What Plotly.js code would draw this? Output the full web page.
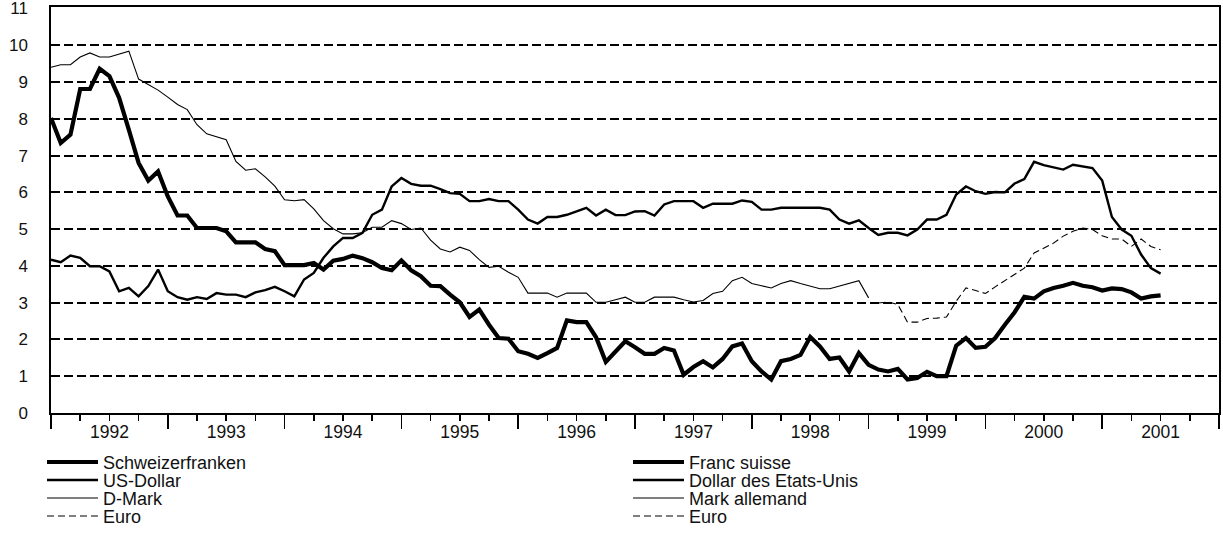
<!DOCTYPE html>
<html>
<head>
<meta charset="utf-8">
<script src="https://cdn.plot.ly/plotly-3.0.1.min.js"></script>
<style>
  html, body { margin: 0; padding: 0; background: #ffffff; }
  #chart { width: 1223px; height: 533px; }
</style>
</head>
<body>
<div id="chart"></div>
<script>
// ---- Data (monthly, Dec 1991 – Jun 2001), values in % ----
const firstYear = 1991;
const firstMonth = 12;

const chf = [8.02, 7.34, 7.57, 8.81, 8.81, 9.36, 9.16, 8.57, 7.70, 6.80,
             6.32, 6.57, 5.89, 5.37, 5.37, 5.03, 5.03, 5.03, 4.94, 4.64,
             4.64, 4.64, 4.46, 4.40, 4.02, 4.02, 4.02, 4.08, 3.90, 4.14,
             4.19, 4.28, 4.21, 4.10, 3.94, 3.88, 4.15, 3.88, 3.72, 3.46,
             3.45, 3.22, 3.01, 2.61, 2.81, 2.40, 2.04, 2.02, 1.68, 1.61,
             1.50, 1.63, 1.77, 2.52, 2.47, 2.47, 2.06, 1.39, 1.68, 1.95,
             1.79, 1.61, 1.61, 1.77, 1.70, 1.04, 1.25, 1.41, 1.24, 1.47,
             1.81, 1.89, 1.41, 1.13, 0.91, 1.41, 1.47, 1.58, 2.07, 1.81,
             1.47, 1.51, 1.13, 1.63, 1.31, 1.18, 1.13, 1.20, 0.91, 0.95,
             1.12, 1.00, 1.00, 1.83, 2.04, 1.77, 1.80, 2.04, 2.40, 2.74,
             3.16, 3.11, 3.31, 3.40, 3.46, 3.54, 3.46, 3.42, 3.33, 3.39,
             3.37, 3.28, 3.11, 3.17, 3.20];

const usd = [4.17, 4.10, 4.28, 4.22, 3.99, 3.99, 3.85, 3.31, 3.40, 3.17,
             3.45, 3.90, 3.31, 3.15, 3.08, 3.15, 3.10, 3.26, 3.22, 3.22,
             3.15, 3.28, 3.34, 3.43, 3.31, 3.17, 3.63, 3.81, 4.22, 4.53,
             4.76, 4.76, 4.90, 5.39, 5.53, 6.16, 6.39, 6.23, 6.18, 6.18,
             6.09, 5.98, 5.96, 5.76, 5.76, 5.82, 5.76, 5.76, 5.53, 5.26,
             5.15, 5.33, 5.33, 5.39, 5.48, 5.58, 5.37, 5.53, 5.38, 5.38,
             5.48, 5.49, 5.37, 5.67, 5.76, 5.76, 5.76, 5.58, 5.69, 5.69,
             5.69, 5.78, 5.74, 5.53, 5.53, 5.58, 5.58, 5.58, 5.58, 5.58,
             5.53, 5.26, 5.15, 5.24, 5.03, 4.84, 4.90, 4.90, 4.83, 4.99,
             5.26, 5.26, 5.39, 5.94, 6.16, 6.03, 5.96, 6.01, 6.00, 6.24,
             6.36, 6.83, 6.74, 6.69, 6.62, 6.75, 6.71, 6.66, 6.32, 5.33,
             4.99, 4.82, 4.31, 3.94, 3.79];

// D-Mark: Dec 1991 – Dec 1998
const dem = [9.40, 9.47, 9.47, 9.68, 9.79, 9.68, 9.68, 9.77, 9.84, 9.08,
             8.93, 8.78, 8.59, 8.39, 8.25, 7.84, 7.59, 7.52, 7.43, 6.84,
             6.60, 6.64, 6.42, 6.17, 5.80, 5.77, 5.80, 5.55, 5.23, 5.01,
             4.87, 4.87, 4.90, 5.05, 5.05, 5.23, 5.15, 4.99, 5.03, 4.70,
             4.46, 4.38, 4.51, 4.42, 4.17, 3.96, 3.99, 3.83, 3.69, 3.26,
             3.26, 3.26, 3.15, 3.26, 3.26, 3.26, 3.01, 3.01, 3.08, 3.15,
             3.01, 3.01, 3.15, 3.15, 3.15, 3.08, 3.02, 3.06, 3.25, 3.31,
             3.60, 3.69, 3.52, 3.46, 3.40, 3.52, 3.60, 3.52, 3.45, 3.38,
             3.38, 3.45, 3.51, 3.60, 3.13];

// Euro: Jan 1999 – Jun 2001
const eur = [2.99, 3.02, 2.95, 2.47, 2.47, 2.57, 2.58, 2.61, 3.04, 3.40,
             3.33, 3.25, 3.43, 3.60, 3.78, 3.94, 4.35, 4.49, 4.62, 4.81,
             4.94, 5.03, 4.99, 4.82, 4.73, 4.73, 4.53, 4.73, 4.53, 4.44];

const yearLabels = ['1992', '1993', '1994', '1995', '1996', '1997', '1998', '1999', '2000', '2001'];
const yTickLabels = ['0', '1', '2', '3', '4', '5', '6', '7', '8', '9', '10', '11'];
const namesDE = ['Schweizerfranken', 'US-Dollar', 'D-Mark', 'Euro'];
const namesFR = ['Franc suisse', 'Dollar des Etats-Unis', 'Mark allemand', 'Euro'];

// ---- month labels & positions (index of month since Dec 1991) ----
const months = chf.map((_, i) => {
  const t = (firstMonth - 1) + i;
  const y = firstYear + Math.floor(t / 12);
  const m = (t % 12) + 1;
  return y + '-' + String(m).padStart(2, '0');
});
const idx = arr => arr.map((_, i) => i);
const eurOffset = months.indexOf('1999-01');

const FONT = 'Liberation Sans, Arial, sans-serif';
const TXT = '#111111';
const Y_RANGE = [0, 11.04];

const styles = [
  { width: 4.2, dash: 'solid' },
  { width: 2.4, dash: 'solid' },
  { width: 1.1, dash: 'solid' },
  { width: 1.1, dash: '7px,4px' }
];
const seriesY = [chf, usd, dem, eur];
const seriesX = [idx(chf), idx(usd), idx(dem), eur.map((_, i) => i + eurOffset)];

const traces = [];
seriesY.forEach((vals, k) => {
  traces.push({
    type: 'scatter', mode: 'lines',
    x: seriesX[k], y: vals,
    text: seriesX[k].map(i => months[i]),
    name: namesDE[k],
    legend: k === 0 ? 'legend' : 'legend' + (k + 1),
    legendgroup: 'g' + k,
    line: { color: '#000000', width: styles[k].width, dash: styles[k].dash },
    hovertemplate: '%{text}: %{y:.2f}%<extra>' + namesDE[k] + '</extra>'
  });
});
// French legend entries (same styles, linked groups)
namesFR.forEach((nm, k) => {
  traces.push({
    type: 'scatter', mode: 'lines',
    x: [null], y: [null],
    name: nm,
    legend: 'legend' + (k + 5),
    legendgroup: 'g' + k,
    line: { color: '#000000', width: styles[k].width, dash: styles[k].dash },
    hoverinfo: 'skip'
  });
});

// Legend rows (visual centre y in px)
const rowCenters = [462, 480, 498, 516];
const H = 533, W = 1223;
const legFont = { family: FONT, size: 18, color: TXT };
const entryOffset = 5 + (legFont.size * 1.3 + 3) / 2;
function legendAt(xpx, row) {
  return {
    x: xpx / W, y: 1 - (rowCenters[row] - entryOffset) / H,
    xref: 'container', yref: 'container',
    xanchor: 'left', yanchor: 'top',
    orientation: 'v',
    bgcolor: 'rgba(0,0,0,0)', borderwidth: 0,
    itemwidth: 51, itemclick: false, itemdoubleclick: false,
    font: legFont
  };
}

const layout = {
  width: W, height: H,
  paper_bgcolor: '#ffffff', plot_bgcolor: '#ffffff',
  margin: { l: 51, r: 4, t: 7, b: 120, autoexpand: false },
  font: { family: FONT, size: 16, color: TXT },
  showlegend: true,
  xaxis: {
    range: [0, 120], fixedrange: true,
    tickmode: 'linear', tick0: 0, dtick: 12,
    ticks: 'outside', ticklen: 14, tickwidth: 1.5, tickcolor: '#000000',
    showticklabels: false,
    minor: { tickmode: 'linear', tick0: 0, dtick: 3, ticks: 'outside', ticklen: 6, tickwidth: 1.5, tickcolor: '#000000', showgrid: false },
    showgrid: false, zeroline: false,
    showline: true, linecolor: '#000000', linewidth: 2, mirror: true
  },
  xaxis2: {
    overlaying: 'x', anchor: 'y', side: 'bottom',
    range: [0, 120], fixedrange: true,
    tickmode: 'array',
    tickvals: yearLabels.map((_, i) => 6 + 12 * i),
    ticktext: yearLabels,
    ticks: '', ticklabelstandoff: 6, ticklabeloverflow: 'allow',
    tickfont: { family: FONT, size: 17.5, color: TXT },
    showgrid: false, zeroline: false, showline: false
  },
  // grid lines (1..10)
  yaxis: {
    range: Y_RANGE, fixedrange: true,
    tickmode: 'array',
    tickvals: yTickLabels.map(Number).filter(v => v > 0 && v < 11),
    showticklabels: false, ticks: '',
    showgrid: true, gridcolor: '#000000', gridwidth: 2, griddash: '9px,4px',
    zeroline: false,
    showline: true, linecolor: '#000000', linewidth: 2, mirror: true
  },
  // tick labels (0..11)
  yaxis2: {
    overlaying: 'y', anchor: 'x', side: 'left',
    range: Y_RANGE, fixedrange: true,
    tickmode: 'array',
    tickvals: yTickLabels.map(Number),
    ticktext: yTickLabels,
    ticks: '', ticklabelstandoff: 22, ticklabeloverflow: 'allow',
    tickfont: { family: FONT, size: 17, color: TXT },
    showgrid: false, zeroline: false, showline: false
  },
  legend:  legendAt(42, 0),
  legend2: legendAt(42, 1),
  legend3: legendAt(42, 2),
  legend4: legendAt(42, 3),
  legend5: legendAt(628, 0),
  legend6: legendAt(628, 1),
  legend7: legendAt(628, 2),
  legend8: legendAt(628, 3)
};

// dummy traces binding the label-only axes so they are drawn
traces.push({ type: 'scatter', mode: 'lines', x: [null], y: [null], xaxis: 'x2', yaxis: 'y', showlegend: false, hoverinfo: 'skip' });
traces.push({ type: 'scatter', mode: 'lines', x: [null], y: [null], xaxis: 'x', yaxis: 'y2', showlegend: false, hoverinfo: 'skip' });

Plotly.newPlot('chart', traces, layout, { displayModeBar: false, staticPlot: true });
</script>
</body>
</html>
